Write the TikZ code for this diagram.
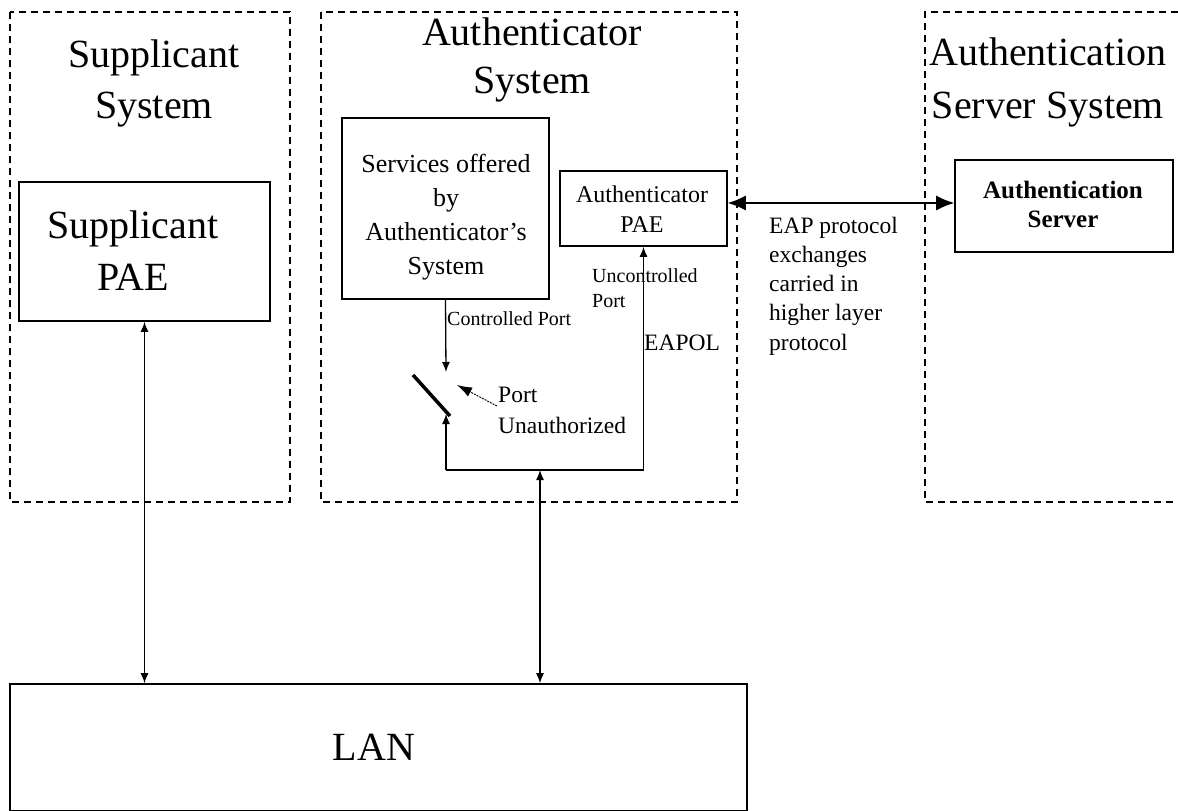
\documentclass[tikz,border=0pt]{standalone}
\usepackage{fontspec}
\setmainfont{Liberation Serif}
\usetikzlibrary{arrows.meta}
\newcommand{\stackc}[1]{\begin{tabular}[t]{@{}c@{}}#1\end{tabular}}
\newcommand{\stackl}[1]{\begin{tabular}[t]{@{}l@{}}#1\end{tabular}}

\begin{document}
\begin{tikzpicture}[x=1pt,y=-1pt,
  box/.style={draw, line width=1.6pt, inner sep=0pt, rectangle},
  region/.style={draw, line width=1.3pt, dash pattern=on 7pt off 5pt},
  txt/.style={inner sep=0pt, anchor=base},
  txtl/.style={inner sep=0pt, anchor=base west},
  conn/.style={line width=1.3pt},
  tipto/.style={conn, -{Latex[length=10pt,width=8pt]}},
  tipboth/.style={conn, {Latex[length=10pt,width=8pt]}-{Latex[length=10pt,width=8pt]}},
  bigboth/.style={conn, {Latex[length=18pt,width=15pt]}-{Latex[length=18pt,width=15pt]}},
  pointer/.style={line width=0.9pt, dash pattern=on 2pt off 1pt, -{Latex[length=15pt,width=10pt]}},
  switchbar/.style={line width=3.5pt}
]
\useasboundingbox (0,0) rectangle (1178,811);
\fill[white] (0,0) rectangle (1178,811);

% system regions
\draw[region] (10,12) rectangle (290,502);
\draw[region] (321,12) rectangle (737,502);
\draw[region] (1178,12) -- (925,12) -- (925,502) -- (1178,502);

% region titles
\node[txt, font=\fontsize{40}{51}\selectfont] (supT) at (154,67) {\stackc{Supplicant\\System}};
\node[txt, font=\fontsize{40}{48}\selectfont] (autT) at (532,45) {\stackc{Authenticator\\System}};
\node[txt, font=\fontsize{40}{53}\selectfont] (srvT) at (1048,65) {\stackc{Authentication\\Server System}};

% boxes
\node[box, minimum width=251pt, minimum height=139pt] (spae) at (144.5,251.5) {};
\node[box, minimum width=207pt, minimum height=181pt] (svc) at (445.5,208.5) {};
\node[box, minimum width=167pt, minimum height=75pt] (apae) at (643.5,208.5) {};
\node[box, minimum width=218pt, minimum height=92pt] (asrv) at (1064,206) {};
\node[box, minimum width=737pt, minimum height=127pt] (lan) at (378.5,747.5) {};

% box texts
\node[txt, font=\fontsize{40}{52}\selectfont] (spaeT) at (133,238) {\stackc{Supplicant\\PAE}};
\node[txt, font=\fontsize{26}{34}\selectfont] (svcT) at (446,172) {\stackc{Services offered\\by\\Authenticator’s\\System}};
\node[txt, font=\fontsize{24}{30}\selectfont] (apaeT) at (642,202) {\stackc{Authenticator\\PAE}};
\node[txt, font=\fontsize{25}{29}\selectfont\bfseries] (asrvT) at (1063,198) {\stackc{Authentication\\Server}};
\node[txt, font=\fontsize{40}{48}\selectfont] (lanT) at (374,760) {LAN};

% port labels
\node[txtl, font=\fontsize{20}{24}\selectfont] (ctrlT) at (447,325) {Controlled Port};
\node[txtl, font=\fontsize{20}{25}\selectfont] (uncT) at (592,282) {\stackl{Uncontrolled\\Port}};
\node[txtl, font=\fontsize{23.5}{28}\selectfont] (eapolT) at (644,350) {EAPOL};
\node[txtl, font=\fontsize{23.5}{31}\selectfont] (unauthT) at (498,402) {\stackl{Port\\Unauthorized}};
\node[txtl, font=\fontsize{23.5}{29.3}\selectfont] (eapT) at (769,233) {\stackl{EAP protocol\\exchanges\\carried in\\higher layer\\protocol}};

% helper points of the port wiring
\coordinate (eapY) at (0,203);
\coordinate (hub) at (540,470);
\coordinate (loopL) at (446,470);
\coordinate (swTop) at (446,372);
\coordinate (swBot) at (446,414);
\coordinate (swA) at (413,375);
\coordinate (swB) at (450,416);
\coordinate (ptrTail) at (497,406);
\coordinate (ptrTip) at (457,385);

% EAP exchange between authenticator PAE and server
\draw[bigboth] (apae.east |- eapY) -- (asrv.west |- eapY);

% LAN attachments
\draw[tipboth] (spae.south) -- (lan.north -| spae.south);
\draw[tipboth] (hub) -- (lan.north -| hub);

% controlled and uncontrolled ports
\draw[tipto] (svc.south) -- (swTop);
\draw[tipto] (loopL) -- (swBot);
\draw[tipto] (loopL) -- (apae.south |- loopL) -- (apae.south);
\draw[switchbar] (swA) -- (swB);
\draw[pointer] (ptrTail) -- (ptrTip);
\end{tikzpicture}
\end{document}
